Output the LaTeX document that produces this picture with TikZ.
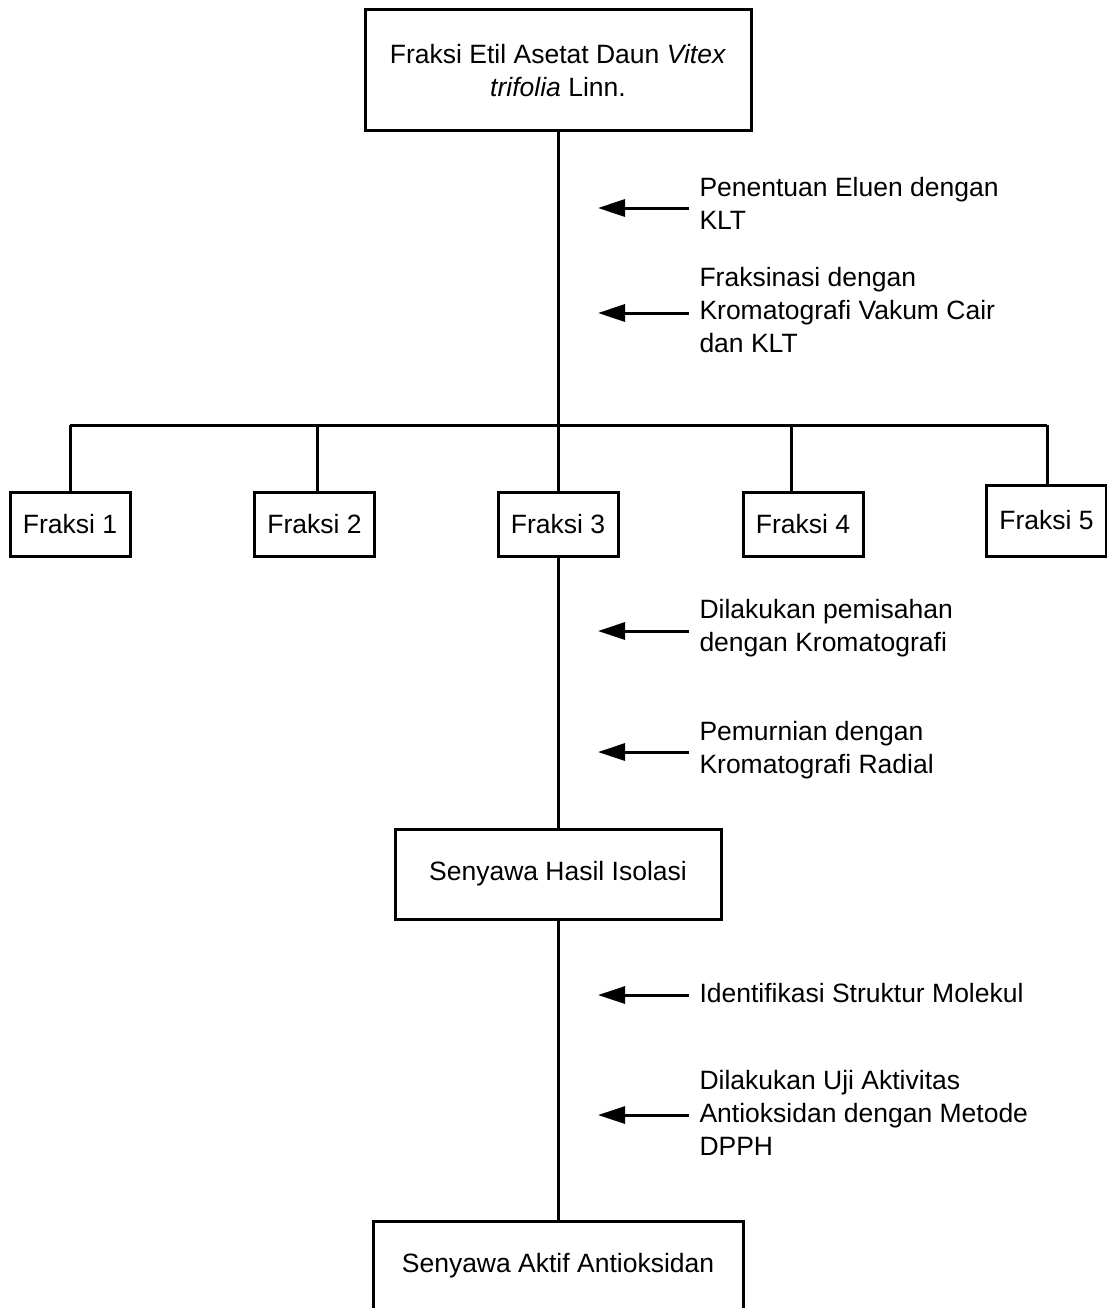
\documentclass[tikz,border=0pt]{standalone}
\usepackage{fontspec}
\setmainfont{Liberation Sans}
\usetikzlibrary{arrows.meta}
\tikzset{
  box/.style={draw, line width=3pt, align=center, inner sep=0pt},
  fbox/.style={box, minimum width=120pt, minimum height=64pt},
  note/.style={anchor=west, align=left, inner xsep=9pt, inner ysep=0pt},
  pointer/.style={-{Triangle[length=27pt,width=17pt]}, line width=3pt},
}
\begin{document}
\begin{tikzpicture}[x=1pt, y=-1pt, line width=3pt,
    font=\fontsize{26.5}{33}\selectfont]
  \useasboundingbox (0,0) rectangle (1107,1308);

  % main boxes
  \node[box, minimum width=386pt, minimum height=121pt] (start) at (558,70.5)
       {Fraksi Etil Asetat Daun \textit{Vitex}\\ \textit{trifolia} Linn.};
  \node[box, minimum width=326pt, minimum height=90pt] (isolat) at (558,874)
       {Senyawa Hasil Isolasi};
  \node[box, minimum width=370pt, minimum height=90pt] (aktif) at (558,1266)
       {Senyawa Aktif Antioksidan};

  % fractions
  \node[fbox] (f1) at (70,524)    {Fraksi 1};
  \node[fbox] (f2) at (314.5,524) {Fraksi 2};
  \node[fbox] (f3) at (558,524)   {Fraksi 3};
  \node[fbox] (f4) at (803,524)   {Fraksi 4};
  \node[fbox, minimum height=71pt] (f5) at (1046.5,520.5) {Fraksi 5};

  \coordinate (bus)  at (558,425);
  \coordinate (bus1) at (70,425);
  \coordinate (bus2) at (317,425);
  \coordinate (bus4) at (791,425);
  \coordinate (bus5) at (1047,425);

  \draw (start.south) -- (bus);
  \draw (bus1) -- (bus5);
  \draw (bus1) -- (bus1 |- f1.north);
  \draw (bus2) -- (bus2 |- f2.north);
  \draw (bus)  -- (f3.north);
  \draw (bus4) -- (bus4 |- f4.north);
  \draw (bus5) -- (bus5 |- f5.north);
  \draw (f3.south) -- (isolat.north);
  \draw (isolat.south) -- (aktif.north);

  % step notes
  \node[note] (n1) at (689,203) {Penentuan Eluen dengan\\KLT};
  \node[note] (n2) at (689,310) {Fraksinasi dengan\\Kromatografi Vakum Cair\\dan KLT};
  \node[note] (n3) at (689,628) {Dilakukan pemisahan\\dengan Kromatografi};
  \node[note] (n4) at (689,750) {Pemurnian dengan\\Kromatografi Radial};
  \node[note] (n5) at (689,993) {Identifikasi Struktur Molekul};
  \node[note] (n6) at (689,1113) {Dilakukan Uji Aktivitas\\Antioksidan dengan Metode\\DPPH};

  \coordinate (t1) at (598,208);
  \coordinate (t2) at (598,313);
  \coordinate (t3) at (598,631);
  \coordinate (t4) at (598,752);
  \coordinate (t5) at (598,995);
  \coordinate (t6) at (598,1115);

  \draw[pointer] (n1.west |- t1) -- (t1);
  \draw[pointer] (n2.west |- t2) -- (t2);
  \draw[pointer] (n3.west |- t3) -- (t3);
  \draw[pointer] (n4.west |- t4) -- (t4);
  \draw[pointer] (n5.west |- t5) -- (t5);
  \draw[pointer] (n6.west |- t6) -- (t6);
\end{tikzpicture}
\end{document}
